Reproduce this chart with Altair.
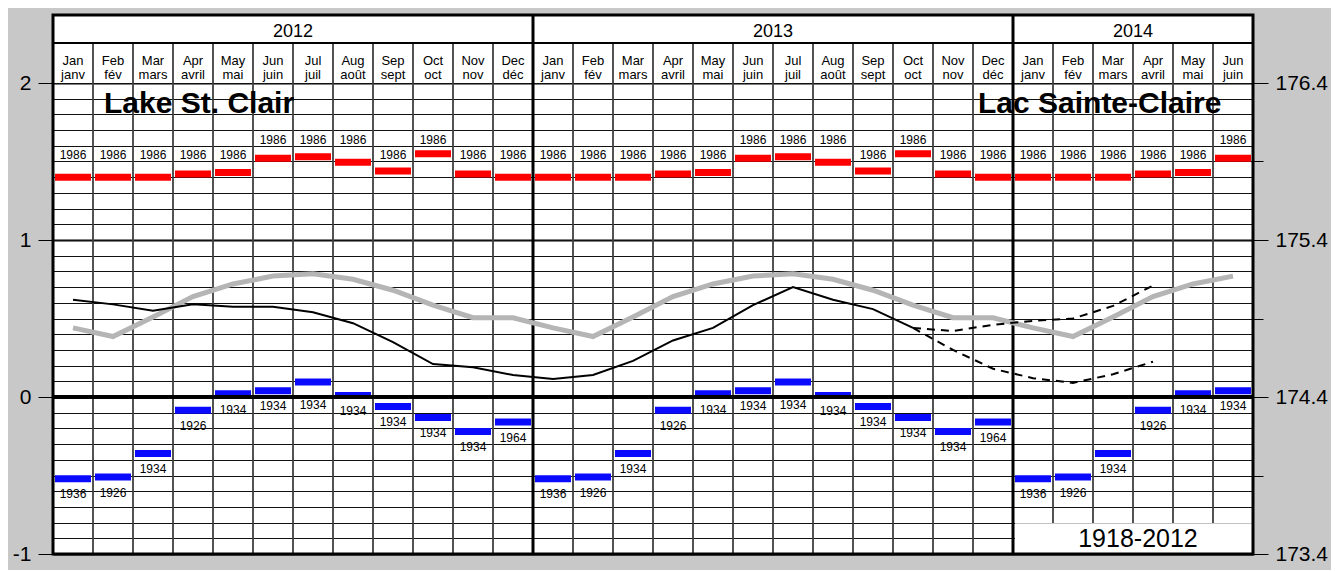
import altair as alt
import pandas as pd

# ---------------- data ----------------
months_en = ["Jan", "Feb", "Mar", "Apr", "May", "Jun", "Jul", "Aug", "Sep", "Oct", "Nov", "Dec"]
months_fr = ["janv", "fév", "mars", "avril", "mai", "juin", "juil", "août", "sept", "oct", "nov", "déc"]
years = ["2012", "2013", "2014"]
months_in_year = [12, 12, 6]

# monthly record highs (m, chart datum) and their years
record_high = [1.40, 1.40, 1.40, 1.42, 1.43, 1.52, 1.53, 1.495, 1.44, 1.55, 1.42, 1.40]
record_high_year = ["1986", "1986", "1986", "1986", "1986", "1986",
                    "1986", "1986", "1986", "1986", "1986", "1986"]
# monthly record lows and their years
record_low = [-0.52, -0.51, -0.36, -0.085, 0.02, 0.04, 0.095, 0.01, -0.06, -0.13, -0.22, -0.16]
record_low_year = ["1936", "1926", "1934", "1926", "1934", "1934",
                   "1934", "1934", "1934", "1934", "1934", "1964"]
# long-term monthly mean 1918-2012
long_term_avg = [0.44, 0.385, 0.51, 0.64, 0.72, 0.77, 0.785, 0.75, 0.68, 0.585, 0.505, 0.505]

# recorded levels Jan 2012 .. Oct 2013
recorded = [0.62, 0.59, 0.55, 0.59, 0.575, 0.575, 0.54, 0.47, 0.35, 0.21, 0.19, 0.14,
            0.115, 0.14, 0.23, 0.36, 0.44, 0.585, 0.70, 0.62, 0.56, 0.44]
# forecast range Oct 2013 .. Apr 2014
forecast_high = [0.44, 0.42, 0.46, 0.485, 0.50, 0.58, 0.71]
forecast_low = [0.44, 0.30, 0.18, 0.12, 0.09, 0.145, 0.225]

title_en = "Lake St. Clair"
title_fr = "Lac Sainte-Claire"
period_label = "1918-2012"

left_ticks = [-1, 0, 1, 2]
right_ticks = [round(173.4 + 0.1 * k, 1) for k in range(31)]

# ---------------- tables ----------------
rows = []
k = 0
for yr, n in zip(years, months_in_year):
    for m in range(n):
        rows.append(dict(i=k, year=yr, en=months_en[m], fr=months_fr[m],
                         high=record_high[m], hy=record_high_year[m],
                         low=record_low[m], ly=record_low_year[m],
                         avg=long_term_avg[m]))
        k += 1
months = pd.DataFrame(rows)
N = len(months)

rec_df = pd.DataFrame({"i": list(range(len(recorded))), "v": recorded})
f0 = len(recorded) - 1
fc_df = pd.DataFrame({"i": [f0 + j for j in range(len(forecast_high))],
                      "hi": forecast_high, "lo": forecast_low})
one = pd.DataFrame({"k": [0]})

# ---------------- layout constants ----------------
W, H = 1200, 471
HEAD = 68     # header height above plot
YROW = 28     # year row height
FONT = "Liberation Sans"
RED = "#ff0000"
BLUE = "#0a0aff"

xs = alt.Scale(domain=[0, N], nice=False, zero=False)
ys = alt.Scale(domain=[-1, 2], nice=False, zero=False)

left_axis = alt.Axis(values=left_ticks, title=None, orient="left", grid=True,
                     gridColor="black", gridWidth=2, tickSize=15, tickColor="black",
                     tickWidth=1, labelFontSize=21, labelPadding=7, labelColor="black",
                     labelFont=FONT, labelExpr="'' + datum.value", domain=False, zindex=0)


def X(f):
    return alt.X(f, type="quantitative", scale=xs, axis=None)


def Y(f):
    return alt.Y(f, type="quantitative", scale=ys, axis=left_axis)


base = alt.Chart(months).transform_calculate(c="datum.i + 0.5")

header_bg = alt.Chart(one).mark_rect(fill="white").encode(
    x=alt.value(0), x2=alt.value(W), y=alt.value(-HEAD), y2=alt.value(0))

month_lines = alt.Chart(months).transform_filter("datum.i > 0 && datum.en != 'Jan'").mark_rule(
    color="#404040", strokeWidth=1.8).encode(
    x=X("i"), y=alt.value(-(HEAD - YROW)), y2=alt.value(H))

year_lines = alt.Chart(months).transform_filter("datum.i > 0 && datum.en == 'Jan'").mark_rule(
    color="black", strokeWidth=3).encode(
    x=X("i"), y=alt.value(-HEAD), y2=alt.value(H))

year_row_line = alt.Chart(one).mark_rule(color="black", strokeWidth=2).encode(
    x=alt.value(0), x2=alt.value(W), y=alt.value(-(HEAD - YROW)))

avg_line = base.mark_line(color="#b5b5b5", strokeWidth=5).encode(x=X("c"), y=Y("avg"))

rec_line = alt.Chart(rec_df).transform_calculate(c="datum.i + 0.5").mark_line(
    color="black", strokeWidth=2).encode(x=X("c"), y=Y("v"))

fc_hi = alt.Chart(fc_df).transform_calculate(c="datum.i + 0.5").mark_line(
    color="black", strokeWidth=2, strokeDash=[8, 6]).encode(x=X("c"), y=Y("hi"))
fc_lo = alt.Chart(fc_df).transform_calculate(c="datum.i + 0.5").mark_line(
    color="black", strokeWidth=2, strokeDash=[8, 6]).encode(x=X("c"), y=Y("lo"))

high_bars = base.mark_tick(orient="horizontal", size=36, thickness=7, color=RED,
                           opacity=1).encode(x=X("c"), y=Y("high"))
low_bars = base.mark_tick(orient="horizontal", size=36, thickness=7, color=BLUE,
                          opacity=1).encode(x=X("c"), y=Y("low"))

zero_line = alt.Chart(one).mark_rule(color="black", strokeWidth=4).encode(
    x=alt.value(0), x2=alt.value(W), y=alt.datum(0))

year_text = alt.Chart(months).transform_aggregate(
    s="min(i)", e="max(i)", groupby=["year"]).transform_calculate(
    c="(datum.s + datum.e + 1) / 2").mark_text(
    font=FONT, fontSize=18, baseline="alphabetic", color="black").encode(
    x=X("c"), y=alt.value(-46), text="year:N")

en_text = base.mark_text(font=FONT, fontSize=13, baseline="alphabetic", color="black").encode(
    x=X("c"), y=alt.value(-18), text="en:N")
fr_text = base.mark_text(font=FONT, fontSize=13, baseline="alphabetic", color="black").encode(
    x=X("c"), y=alt.value(-4.5), text="fr:N")

high_text = base.transform_calculate(
    hl="ceil((datum.high + 0.045) * 10) / 10 + 0.04").mark_text(
    font=FONT, fontSize=12, baseline="middle", color="black").encode(
    x=X("c"), y=Y("hl"), text="hy:N")
low_text = base.transform_calculate(
    ll="min(datum.low - 0.1, -0.05)").mark_text(
    font=FONT, fontSize=12, baseline="middle", color="black").encode(
    x=X("c"), y=Y("ll"), text="ly:N")

t_en = alt.Chart(one).mark_text(text=title_en, font=FONT, fontSize=30, fontWeight="bold",
                                align="left", baseline="alphabetic", color="black").encode(
    x=alt.value(51), y=alt.value(30))
t_fr = alt.Chart(one).mark_text(text=title_fr, font=FONT, fontSize=30, fontWeight="bold",
                                align="left", baseline="alphabetic", color="black").encode(
    x=alt.value(925), y=alt.value(30))

period_box = alt.Chart(one).mark_rect(fill="white").encode(
    x=alt.value(962), x2=alt.value(W - 1), y=alt.value(440.3), y2=alt.value(H - 1))
period_text = alt.Chart(one).mark_text(text=period_label, font=FONT, fontSize=25,
                                       align="center", baseline="alphabetic", color="black").encode(
    x=alt.value(1085), y=alt.value(464))

frame = alt.Chart(one).mark_rect(fillOpacity=0, stroke="black", strokeWidth=3).encode(
    x=alt.value(0), x2=alt.value(W), y=alt.value(-HEAD), y2=alt.value(H))

main = alt.layer(header_bg, month_lines, year_lines, year_row_line,
                 avg_line, rec_line, fc_hi, fc_lo, high_bars, low_bars, zero_line,
                 year_text, en_text, fr_text, high_text, low_text, t_en, t_fr,
                 period_box, period_text, frame)

major = "round((datum.value - 173.4) * 10) % 10 == 0"
half = "round((datum.value - 173.4) * 10) % 5 == 0"
right_axis = alt.Axis(values=right_ticks, title=None, orient="right", grid=True,
                      gridColor="#111111", gridWidth=1, domain=False, zindex=0,
                      tickColor="black", tickWidth=1,
                      tickSize={"condition": {"test": major, "value": 15}, "value": 10},
                      tickOpacity={"condition": {"test": half, "value": 1}, "value": 0},
                      labelExpr=major + " ? format(datum.value, '.1f') : ''",
                      labelFontSize=21, labelPadding=7, labelColor="black", labelFont=FONT)
right = alt.Chart(pd.DataFrame({"m": right_ticks})).mark_point(opacity=0).encode(
    y=alt.Y("m:Q", scale=alt.Scale(domain=[173.4, 176.4], nice=False, zero=False), axis=right_axis))

chart = alt.layer(main, right).resolve_scale(y="independent").properties(
    width=W, height=H,
    autosize=alt.AutoSizeParams(type="none"),
    padding={"left": 45, "top": 75, "right": 78, "bottom": 16},
    background="#c8c8c8",
    usermeta={"embedOptions": {"defaultStyle": "html,body{background:#c8c8c8;overflow:hidden;}"}},
).configure_view(fill="white", strokeWidth=0)

chart.save("out.html", embed_options={"renderer": "svg", "actions": False})
